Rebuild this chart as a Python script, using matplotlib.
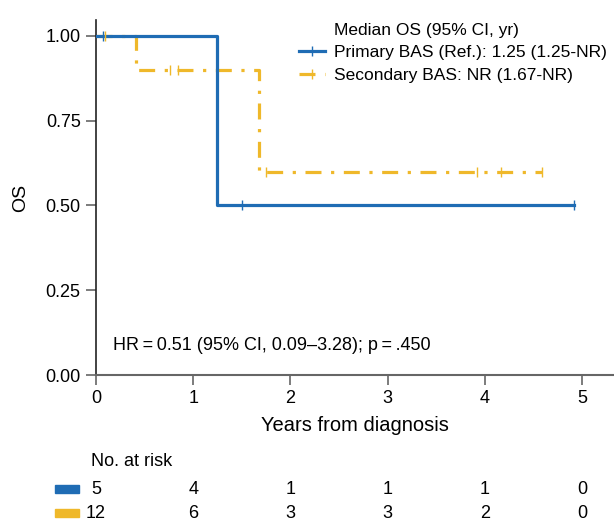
import numpy as np
import matplotlib
matplotlib.use('Agg')
import matplotlib.pyplot as plt
from matplotlib.lines import Line2D

plt.rcParams['font.family'] = ['Liberation Sans', 'DejaVu Sans']

# Kaplan-Meier steps
prim_t = [0, 1.25, 4.92]
prim_s = [1.0, 0.5, 0.5]
prim_cens = [0.07, 1.50, 4.92]

sec_t = [0, 0.41, 1.68, 4.59]
sec_s = [1.0, 0.9, 0.6, 0.6]
sec_cens = [0.09, 0.76, 0.84, 1.75, 3.92, 4.17, 4.59]

risk_times = [0, 1, 2, 3, 4, 5]
risk_prim = [5, 4, 1, 1, 1, 0]
risk_sec = [12, 6, 3, 3, 2, 0]

blue = '#1f6cb4'
gold = '#efb82a'
grey = '#666666'
dash = (5, 3, 1, 3)


def surv_at(t, times, surv):
    idx = np.searchsorted(times, t, side='right') - 1
    return np.array(surv)[idx]


fig = plt.figure(figsize=(6.14, 5.21), dpi=100)
ax_rect = [96 / 614, 1 - 375 / 521, (614 - 96) / 614, (375 - 20) / 521]
ax = fig.add_axes(ax_rect)
xmax = 5.33

ax.step(prim_t, prim_s, where='post', color=blue, lw=2.3, zorder=3)
ax.plot(prim_cens, surv_at(prim_cens, prim_t, prim_s), ls='none', marker='|',
        ms=7, mew=1.0, color=blue, zorder=4)

sec_line, = ax.step(sec_t, sec_s, where='post', color=gold, lw=2.3, zorder=2)
sec_line.set_dashes(dash)
ax.plot(sec_cens, surv_at(sec_cens, sec_t, sec_s), ls='none', marker='|',
        ms=7, mew=1.0, color=gold, zorder=4)

ax.set_xlim(0, xmax)
ax.set_ylim(0, 1.047)
ax.set_xticks(risk_times)
ax.set_yticks([0, 0.25, 0.5, 0.75, 1.0])
ax.set_yticklabels(['0.00', '0.25', '0.50', '0.75', '1.00'])
ax.tick_params(direction='out', length=7, width=1.2, color=grey, labelsize=13,
               pad=4)
for s in ['top', 'right']:
    ax.spines[s].set_visible(False)
ax.spines['left'].set_color('#222222')
ax.spines['bottom'].set_color(grey)
ax.spines['left'].set_linewidth(1.2)
ax.spines['bottom'].set_linewidth(1.5)
ax.set_xlabel('Years from diagnosis', fontsize=14.5, labelpad=6)
ax.set_ylabel('OS', fontsize=14, labelpad=12)

ax.text(0.18, 0.088, 'HR\u2009=\u20090.51 (95% CI, 0.09\u20133.28); p\u2009=\u2009.450',
        fontsize=13, va='center', ha='left')

h0 = Line2D([], [], color='none')
h1 = Line2D([], [], color=blue, lw=2.3, marker='|', ms=7, mew=1.0)
h2 = Line2D([], [], color=gold, lw=2.3, marker='|', ms=7, mew=1.0, dashes=dash)
leg = ax.legend([h0, h1, h2], ['Median OS (95% CI, yr)',
                               'Primary BAS (Ref.): 1.25 (1.25-NR)',
                               'Secondary BAS: NR (1.67-NR)'],
                loc='upper right', bbox_to_anchor=(1.0, 1.012), frameon=False,
                fontsize=12.5, handlelength=1.45, handletextpad=0.55,
                labelspacing=0.42, borderaxespad=0.0)

# number at risk table, same x scale as the main axes
rax = fig.add_axes([ax_rect[0], 0, ax_rect[2], 76 / 521])
rax.set_xlim(0, xmax)
rax.set_ylim(0, 76)
rax.axis('off')
rax.text(-0.05, 60, 'No. at risk', fontsize=13, va='center', ha='left')
for vals, col, yy in [(risk_prim, blue, 32), (risk_sec, gold, 8)]:
    for t, v in zip(risk_times, vals):
        rax.text(t, yy, str(v), fontsize=13, ha='center', va='center')
    rax.add_patch(plt.Rectangle((-0.42, yy - 4), 0.245, 8, color=col,
                                clip_on=False))

fig.savefig('out.png', dpi=100)
